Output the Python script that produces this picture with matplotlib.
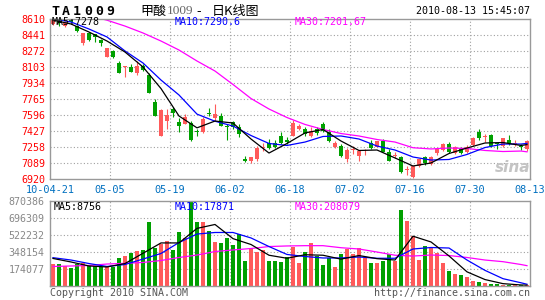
import matplotlib
matplotlib.use("Agg")
import matplotlib.pyplot as plt

W, H = 545, 300

# ---- data (index 0 = 10-04-21) ----
dates = ["10-04-21", "05-05", "05-19", "06-02", "06-18", "07-02", "07-16", "07-30", "08-13"]
price_ticks = [8610, 8441, 8272, 8103, 7934, 7765, 7596, 7427, 7258, 7089, 6920]
vol_ticks = [870386, 696309, 522232, 348154, 174077]

opens = [8550, 8580, 8535, 8603, 8533, 8350, 8455, 8445, 8381, 8202,
         8268, 8140, 8100, 8100, 8033, 8110, 8012, 7730, 7371, 7529,
         7653, 7515, 7500, 7505, 7420, 7406, 7612, 7557, 7582, 7470,
         7512, 7466, 7124, 7100, 7124, 7242, 7300, 7300, 7364, 7328,
         7371, 7441, 7441, 7371, 7441, 7494, 7406, 7254, 7265, 7124,
         7226, 7160, 7208, 7300, 7254, 7318, 7205, 7157, 7142, 7015,
         6933, 7052, 7144, 7070, 7187, 7222, 7285, 7187, 7240, 7204,
         7274, 7415, 7358, 7380, 7290, 7264, 7327, 7290, 7262, 7229]
closes = [8595, 8560, 8568, 8570, 8480, 8455, 8381, 8410, 8350, 8297,
          8205, 8035, 8108, 8047, 8110, 8064, 7825, 7582, 7645, 7593,
          7607, 7475, 7565, 7325, 7413, 7547, 7600, 7600, 7477, 7462,
          7466, 7389, 7100, 7142, 7237, 7250, 7247, 7252, 7300, 7305,
          7501, 7477, 7389, 7424, 7396, 7424, 7320, 7300, 7160, 7219,
          7233, 7212, 7214, 7247, 7318, 7205, 7107, 7163, 6984, 7022,
          7052, 7123, 7087, 7151, 7229, 7285, 7204, 7256, 7194, 7256,
          7351, 7345, 7366, 7264, 7281, 7345, 7290, 7296, 7254, 7320]
highs = [8610, 8600, 8580, 8610, 8545, 8460, 8465, 8450, 8390, 8300,
         8275, 8156, 8112, 8128, 8156, 8128, 8030, 7758, 7652, 7652,
         7672, 7560, 7600, 7525, 7440, 7565, 7663, 7705, 7607, 7494,
         7530, 7494, 7160, 7150, 7265, 7300, 7335, 7325, 7406, 7360,
         7536, 7494, 7466, 7459, 7459, 7512, 7441, 7318, 7283, 7240,
         7265, 7220, 7230, 7325, 7320, 7335, 7230, 7195, 7160, 7054,
         7060, 7130, 7160, 7158, 7236, 7299, 7310, 7265, 7256, 7270,
         7360, 7440, 7395, 7385, 7300, 7350, 7380, 7327, 7285, 7325]
lows = [8540, 8530, 8520, 8560, 8470, 8335, 8370, 8360, 8318, 8200,
        8190, 8030, 7990, 8040, 8016, 8055, 7820, 7575, 7365, 7441,
        7565, 7410, 7495, 7318, 7370, 7400, 7580, 7530, 7470, 7325,
        7440, 7360, 7095, 7079, 7105, 7213, 7230, 7240, 7285, 7285,
        7365, 7435, 7371, 7355, 7380, 7406, 7310, 7240, 7149, 7096,
        7177, 7107, 7170, 7233, 7250, 7195, 7100, 7135, 6973, 6960,
        6925, 7045, 7066, 7062, 7170, 7215, 7187, 7180, 7177, 7187,
        7265, 7325, 7310, 7255, 7235, 7255, 7275, 7260, 7222, 7215]
volumes_k = [225, 225, 205, 188, 225, 239, 208, 208, 191, 191,
             191, 290, 307, 341, 358, 369, 658, 392, 427, 461,
             369, 556, 495, 868, 658, 658, 566, 454, 444, 495,
             420, 532, 259, 376, 345, 369, 259, 256, 249, 300,
             402, 239, 351, 444, 310, 218, 283, 198, 328, 376,
             328, 392, 283, 232, 239, 259, 328, 259, 778, 669,
             515, 266, 412, 392, 341, 239, 154, 123, 113, 96,
             55, 40, 28, 24, 18, 12, 8, 9, 6, 8]

# moving average lines, read at these candle indices
ma_idx = [0, 3, 6, 9, 12, 15, 18, 21, 24, 27, 30, 33, 36, 39, 42, 45, 48,
          51, 54, 57, 60, 63, 66, 69, 72, 75, 78, 79]
ma5 = [8594, 8552, 8467, 8372, 8256, 8098, 7870, 7580, 7455, 7527, 7506, 7337, 7189, 7290,
       7401, 7438, 7316, 7216, 7221, 7137, 7052, 7084, 7184, 7242, 7295, 7300, 7269, 7278]
ma10 = [8610, 8573, 8499, 8415, 8267, 8140, 7960, 7802, 7600, 7525, 7474, 7374, 7290, 7269,
        7305, 7364, 7369, 7337, 7263, 7221, 7147, 7115, 7121, 7174, 7247, 7284, 7284, 7290.6]
ma30 = [8690, 8665, 8640, 8592, 8530, 8457, 8372, 8277, 8161, 8055, 7913, 7765, 7654, 7564,
        7491, 7438, 7395, 7369, 7332, 7305, 7245, 7232, 7242, 7237, 7216, 7205, 7210, 7201.67]
vma5_k = [282, 246, 205, 195, 230, 335, 441, 441, 590, 630, 485, 425, 315, 284,
          320, 315, 275, 312, 280, 266, 510, 451, 308, 145, 66, 24, 10.6, 8.756]
vma10_k = [290, 266, 230, 200, 220, 276, 333, 445, 532, 548, 548, 492, 404, 323,
           302, 287, 287, 297, 284, 284, 379, 394, 389, 266, 160, 75, 33, 17.871]
vma30_k = [200, 205, 210, 225, 232, 241, 261, 292, 317, 353, 369, 384, 404, 410,
           413, 413, 392, 379, 348, 315, 307, 317, 312, 292, 266, 249, 220, 208.079]

RED = "#ff5a5a"
GREEN = "#00a000"
GRID = "#a0a0a0"
FRAME = "#999999"
MONO = "DejaVu Sans Mono"


def fx(x):
    return x / W


def fy(y):
    return 1 - y / H


fig = plt.figure(figsize=(W / 100, H / 100), dpi=100)
fig.patch.set_facecolor("white")

ax = fig.add_axes([fx(50), fy(178.5), fx(480), 160 / H])
axv = fig.add_axes([fx(50), fy(286), fx(480), 85 / H])

xs = [i + 0.5 for i in range(len(opens))]
up = [c >= o for o, c in zip(opens, closes)]
cols = [RED if u else GREEN for u in up]

# price panel
for g in price_ticks[1:-1]:
    ax.axhline(g, color=GRID, lw=0.8, ls=(0, (1, 2)), zorder=0)
for k in range(1, 8):
    ax.axvline(k * 10, color=GRID, lw=0.8, ls=(0, (1, 2)), zorder=0)

ax.vlines(xs, lows, highs, colors=cols, lw=0.8, zorder=2)
bott, hts = [], []
for o, c in zip(opens, closes):
    d = abs(c - o)
    if d < 9:
        bott.append(min(o, c) - (9 - d) / 2)
        hts.append(9)
    else:
        bott.append(min(o, c))
        hts.append(d)
ax.bar(xs, hts, 0.8, bottom=bott, color=cols, linewidth=0, zorder=3)

mx = [i + 0.5 for i in ma_idx]
ax.plot(mx, ma30, color="#ff00ff", lw=0.9, zorder=4)
ax.plot(mx, ma10, color="#0000ff", lw=0.9, zorder=4)
ax.plot(mx, ma5, color="black", lw=0.9, zorder=4)

ax.set_xlim(0, 80)
ax.set_ylim(6920, 8610)
ax.set_yticks(price_ticks)
ax.set_yticklabels([str(t) for t in price_ticks], color="red", family=MONO, fontsize=7.2)
ax.set_xticks(range(0, 81, 10))
ax.set_xticklabels(dates, color="#0070c0", family=MONO, fontsize=7.4)
ax.tick_params(length=0, pad=3)
ax.tick_params(axis="x", pad=5)

# volume panel
vols = [v * 1000 for v in volumes_k]
for g in vol_ticks[1:]:
    axv.axhline(g, color=GRID, lw=0.8, ls=(0, (1, 2)), zorder=0)
for k in range(1, 8):
    axv.axvline(k * 10, color=GRID, lw=0.8, ls=(0, (1, 2)), zorder=0)
axv.bar(xs, vols, 0.82, color=cols, linewidth=0, zorder=2)
axv.plot(mx, [v * 1000 for v in vma30_k], color="#ff00ff", lw=0.9, zorder=4)
axv.plot(mx, [v * 1000 for v in vma10_k], color="#0000ff", lw=0.9, zorder=4)
axv.plot(mx, [v * 1000 for v in vma5_k], color="black", lw=0.9, zorder=4)
axv.set_xlim(0, 80)
axv.set_ylim(0, 870386)
axv.set_yticks(vol_ticks)
axv.set_yticklabels([str(t) for t in vol_ticks], color="#888888", family=MONO, fontsize=7.2)
axv.set_xticks([])
axv.tick_params(length=0, pad=4)

for a in (ax, axv):
    for s in a.spines.values():
        s.set_color(FRAME)
        s.set_linewidth(1.0)
        s.set_zorder(5)

# titles and labels
for i, ch in enumerate("TA1009"):
    fig.text(fx(51 + 11 * i), fy(11.5), ch, family=MONO, weight="bold",
             fontsize=9.5, va="center", ha="left")
cjk = ["Noto Sans CJK SC", "DejaVu Sans"]
fig.text(fx(140), fy(11.5), "甲酸", family=cjk, fontsize=9.4, va="center")
fig.text(fx(167), fy(11.5), "1009", family="Liberation Serif", fontsize=9.5,
         color="#666666", va="center")
fig.text(fx(196), fy(11.5), "-", family=cjk, fontsize=9.4, va="center")
fig.text(fx(212), fy(11.5), "日K线图", family=cjk, fontsize=9.4, va="center")
fig.text(fx(530), fy(11.5), "2010-08-13 15:45:07", family=MONO, fontsize=7.2,
         ha="right", va="center")

fig.text(fx(52), fy(22), "MA5:7278", family=MONO, fontsize=7.2, color="black", va="center")
fig.text(fx(175), fy(22), "MA10:7290.6", family=MONO, fontsize=7.2, color="#0000ff", va="center")
fig.text(fx(295), fy(22), "MA30:7201.67", family=MONO, fontsize=7.2, color="#ff00ff", va="center")

fig.text(fx(54), fy(206.5), "MA5:8756", family=MONO, fontsize=7.2, color="black", va="center")
fig.text(fx(175), fy(206.5), "MA10:17871", family=MONO, fontsize=7.2, color="#0000ff", va="center")
fig.text(fx(295), fy(206.5), "MA30:208079", family=MONO, fontsize=7.2, color="#ff00ff", va="center")

fig.text(fx(495), fy(167), "sina", fontsize=11, style="italic", weight="bold",
         color="#c4c4c4", va="center", zorder=1)

fig.text(fx(50), fy(293), "Copyright 2010 SINA.COM", family=MONO, fontsize=7.2,
         color="#555555", va="center")
fig.text(fx(530), fy(293), "http://finance.sina.com.cn", family=MONO, fontsize=7.2,
         color="#555555", va="center", ha="right")

fig.savefig("out.png", dpi=100)
